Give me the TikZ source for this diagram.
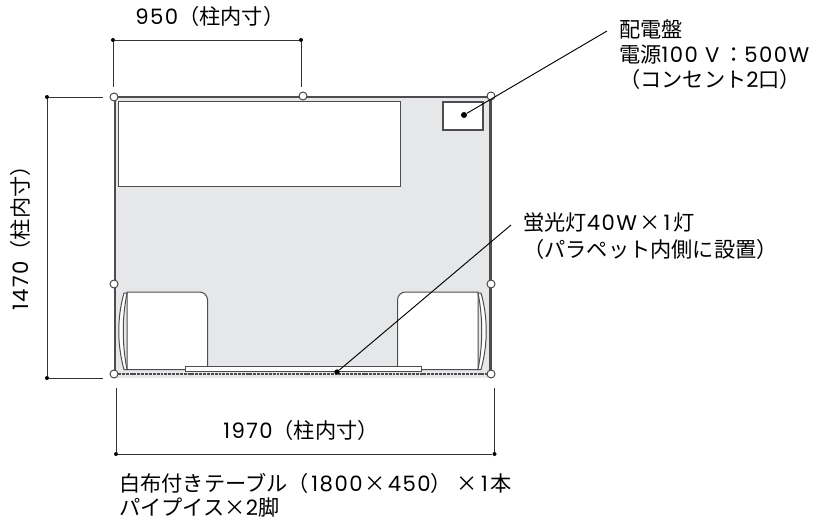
\documentclass[tikz,border=0pt]{standalone}
\usepackage{fontspec}
\setmainfont{Noto Sans CJK JP}
\newfontfamily\latinfont[LetterSpace=7]{Poppins}
\newcommand{\lat}[1]{{\latinfont #1}}
\definecolor{floorgray}{HTML}{E6E7E8}
\definecolor{wallgray}{HTML}{4D4D4F}
\tikzset{
  txt/.style={inner sep=0, font=\fontsize{15.9pt}{19pt}\selectfont, align=left},
  dim/.style={line width=0.7pt, color=black!80},
  post/.style={circle, draw=black!75, fill=white, line width=0.7pt, minimum size=6pt, inner sep=0},
  enddot/.style={circle, fill=black, minimum size=3pt, inner sep=0},
  furn/.style={draw=wallgray, fill=white, line width=0.75pt},
}
\begin{document}
\begin{tikzpicture}[x=0.75pt,y=-0.75pt]
\useasboundingbox (0,0) rectangle (825,522);
% floor
\fill[floorgray] (115,97) rectangle (491,378);
% table
\draw[furn] (118,101.5) rectangle (400,186);
% chairs
\draw[furn] (127,369.5) -- (127,292) [rounded corners=6pt] -- (207.5,292) [sharp corners] -- (207.5,369.5) -- cycle;
\draw[furn] (478,369.5) -- (478,292) [rounded corners=6pt] -- (397.5,292) [sharp corners] -- (397.5,369.5) -- cycle;
\draw[furn] (124,293) .. controls (117,318) and (117,344) .. (124,369.5) -- (127,369.5) .. controls (122,344) and (122,318) .. (127,293) -- cycle;
\draw[furn] (481,293) .. controls (488,318) and (488,344) .. (481,369.5) -- (478,369.5) .. controls (483,344) and (483,318) .. (478,293) -- cycle;
% light
\draw[furn] (185,366) rectangle (421,371.5);
\draw[line width=1.4pt, wallgray, dash pattern=on 2.2pt off 0.7pt] (118,374) -- (488,374);
% walls
\draw[wallgray, line width=1.7pt] (115,374) -- (115,97) -- (490.5,97) -- (490.5,374);
% panel
\draw[furn, line width=1.1pt] (443,102) rectangle (483,130);
% posts
\foreach \pname/\px/\py in {pa/114/97, pb/303/96, pc/491/96, pd/114/284, pe/491/284, pf/114/374, pg/491/374}
  \node[post] (\pname) at (\px,\py) {};
% leaders
\node[enddot, minimum size=4.5pt] (paneldot) at (464,115) {};
\coordinate (panelend) at (607,31);
\draw[line width=0.7pt] (paneldot) -- (panelend);
\node[enddot, minimum size=4pt] (lightdot) at (337,372) {};
\coordinate (lightend) at (511,225);
\draw[line width=0.7pt] (lightdot) -- (lightend);
% dimensions
\node[enddot] (ta) at (113,40) {};
\node[enddot] (tb) at (301,40) {};
\coordinate (tc) at (113,87);
\coordinate (td) at (301,87);
\draw[dim] (tc) -- (ta) -- (tb) -- (td);
\node[enddot] (la) at (47,97) {};
\node[enddot] (lb) at (47,378) {};
\coordinate (lc) at (103,97);
\coordinate (ld) at (103,378);
\draw[dim] (lc) -- (la) -- (lb) -- (ld);
\node[enddot] (ba) at (116,454) {};
\node[enddot] (bb) at (494.5,454) {};
\coordinate (bc) at (116,388);
\coordinate (bd) at (494.5,388);
\draw[dim] (bc) -- (ba) -- (bb) -- (bd);
% labels
\node[txt, anchor=base west] (toplabel) at (135,24) {\lat{950}（柱内寸）};
\node[txt, anchor=center, rotate=90] (leftlabel) at (20,233) {\lat{1470}（柱内寸）};
\node[txt, anchor=base west] (botlabel) at (223,438) {\lat{1970}（柱内寸）};
\node[txt, anchor=base west] (panellabela) at (619,37) {配電盤};
\node[txt, anchor=base west] (panellabelb) at (619,62) {電源\lat{100 V}\,：\lat{500W}};
\node[txt, anchor=base west] (panellabelc) at (619,87) {（コンセント\lat{2}口）};
\node[txt, anchor=base west] (lightlabela) at (523,230) {蛍光灯\lat{40W}\kern2pt×\kern2pt\lat{1}\kern2pt灯};
\node[txt, anchor=base west] (lightlabelb) at (523,257) {（パラペット内側に設置）};
\node[txt, anchor=base west] (tablelabela) at (119,491) {白布付きテーブル（\lat{\kern2pt 1800}\kern1.5pt×\kern1.5pt\lat{450}）\kern3pt×\kern1pt\lat{\kern2pt 1}\kern2pt本};
\node[txt, anchor=base west] (tablelabelb) at (119,515) {パイプイス×\lat{2}脚};
\end{tikzpicture}
\end{document}
